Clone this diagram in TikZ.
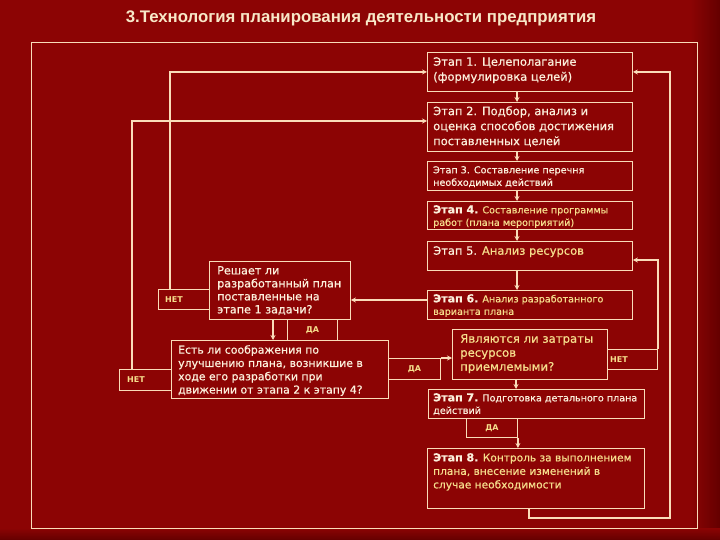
\documentclass[tikz,border=0pt]{standalone}
\usepackage{fontspec}
\setmainfont{DejaVu Sans}
\newfontfamily\semi{DejaVu Sans}[FakeBold=0.6]
\newfontfamily\titlefont{Liberation Sans}
\usetikzlibrary{arrows.meta}
\definecolor{bg}{RGB}{140,4,4}
\definecolor{bgdark}{RGB}{100,0,0}
\definecolor{ln}{RGB}{250,220,185}
\definecolor{tw}{RGB}{252,240,220}
\definecolor{ty}{RGB}{246,222,140}
\definecolor{tt}{RGB}{248,232,200}
\begin{document}
\begin{tikzpicture}[x=1pt,y=-1pt,
  box/.style={draw=ln, line width=0.9pt, rectangle, inner sep=0pt, anchor=north west},
  txt/.style={anchor=north west, inner sep=0pt, align=left, text=tw},
  big/.style={font=\semi\fontsize{11.5}{15}\selectfont},
  sml/.style={font=\semi\fontsize{9.6}{12.5}\selectfont},
  tag/.style={inner sep=0pt, text=ty, font=\bfseries\fontsize{8}{9}\selectfont},
  arr/.style={draw=ln, line width=1.2pt, -{Stealth[length=5pt,width=5pt]}},
  lnk/.style={draw=ln, line width=1.2pt}]
\useasboundingbox (0,0) rectangle (720,540);
\fill[bg] (0,0) rectangle (720,540);
\shade[left color=bg, right color=bgdark] (690,0) rectangle (720,540);
\shade[top color=bg, bottom color=bgdark] (0,528) rectangle (720,540);

\node[inner sep=0pt, text=tt, font=\titlefont\bfseries\fontsize{16.8}{18}\selectfont] (title) at (361,18) {3.Технология планирования деятельности предприятия};

\node[box, minimum width=666pt, minimum height=486pt] (frame) at (31,42) {};

% stage boxes
\node[box, minimum width=205pt, minimum height=39pt] (s1) at (427,52) {};
\node[box, minimum width=205pt, minimum height=49pt] (s2) at (427,102) {};
\node[box, minimum width=205pt, minimum height=29pt] (s3) at (427,161) {};
\node[box, minimum width=205pt, minimum height=28pt] (s4) at (427,201) {};
\node[box, minimum width=205pt, minimum height=29pt] (s5) at (427,241) {};
\node[box, minimum width=205pt, minimum height=29pt] (s6) at (427,290) {};
\node[box, minimum width=155pt, minimum height=50pt] (q3) at (452,329) {};
\node[box, minimum width=50pt, minimum height=20pt] (n3) at (607,349) {};
\node[box, minimum width=216pt, minimum height=29pt] (s7) at (428,389) {};
\node[box, minimum width=51pt, minimum height=19pt] (d3) at (466,418) {};
\node[box, minimum width=217pt, minimum height=60pt] (s8) at (427,448) {};
\node[box, minimum width=141pt, minimum height=58pt] (q1) at (209,261) {};
\node[box, minimum width=51pt, minimum height=20pt] (n1) at (158,289) {};
\node[box, minimum width=50pt, minimum height=21pt] (d1) at (287,319) {};
\node[box, minimum width=217pt, minimum height=58pt] (q2) at (171,340) {};
\node[box, minimum width=52pt, minimum height=21pt] (n2) at (119,369) {};
\node[box, minimum width=52pt, minimum height=21pt] (d2) at (388,358) {};

% texts
\node[txt, big] (t1) at ([shift={(6,5)}]s1.north west) {Этап 1. Целеполагание\\(формулировка целей)};
\node[txt, big] (t2) at ([shift={(6,4)}]s2.north west) {Этап 2. Подбор, анализ и\\оценка способов достижения\\поставленных целей};
\node[txt, sml] (t3) at ([shift={(6,5)}]s3.north west) {Этап 3. Составление перечня\\необходимых действий};
\node[txt, sml] (t4) at ([shift={(6,4)}]s4.north west) {{\bfseries\fontsize{11}{12}\selectfont Этап 4.} {\color{ty}Составление программы}\\{\color{ty}работ (плана мероприятий)}};
\node[txt, big] (t5) at ([shift={(6,5)}]s5.north west) {Этап 5. {\color{ty}Анализ ресурсов}};
\node[txt, sml] (t6) at ([shift={(6,4)}]s6.north west) {{\bfseries\fontsize{11}{12}\selectfont Этап 6.} {\color{ty}Анализ разработанного}\\{\color{ty}варианта плана}};
\node[txt, text=ty, font=\semi\fontsize{11.7}{14}\selectfont] (t7) at ([shift={(8,5)}]q3.north west) {Являются ли затраты\\ресурсов\\приемлемыми?};
\node[txt, sml] (t8) at ([shift={(5,4)}]s7.north west) {{\bfseries\fontsize{11}{12}\selectfont Этап 7.} Подготовка детального плана\\действий};
\node[txt, font=\semi\fontsize{10.6}{13.5}\selectfont] (t9) at ([shift={(6,5)}]s8.north west) {{\bfseries\fontsize{11}{12}\selectfont Этап 8.} {\color{ty}Контроль за выполнением}\\{\color{ty}плана, внесение изменений в}\\{\color{ty}случае необходимости}};
\node[txt, font=\semi\fontsize{11.2}{13}\selectfont] (t10) at ([shift={(8,5)}]q1.north west) {Решает ли\\разработанный план\\поставленные на\\этапе 1 задачи?};
\node[txt, font=\semi\fontsize{10.9}{13.3}\selectfont] (t11) at ([shift={(7,5)}]q2.north west) {Есть ли соображения по\\улучшению плана, возникшие в\\ходе его разработки при\\движении от этапа 2 к этапу 4?};

\node[tag, anchor=west] (l1) at ([xshift=7pt]n1.west) {НЕТ};
\node[tag, anchor=west] (l2) at ([xshift=8pt]n2.west) {НЕТ};
\node[tag, anchor=west] (l3) at ([xshift=3pt]n3.west) {НЕТ};
\node[tag] (l4) at (d1.center) {ДА};
\node[tag] (l5) at (d2.center) {ДА};
\node[tag] (l6) at (d3.center) {ДА};

% helper coordinates
\coordinate (ax) at (517,0);
\coordinate (ay) at (0,300);
\coordinate (bx) at (273,0);
\coordinate (cx) at (516,0);
\coordinate (n1x) at (170,0);
\coordinate (n2x) at (132,0);
\coordinate (s2y) at (0,121);
\coordinate (s5y) at (0,260);
\coordinate (s8x) at (529,0);
\coordinate (loopb) at (670,518);

% connectors
\draw[arr] (s1.south -| ax) -- (s2.north -| ax);
\draw[arr] (s2.south -| ax) -- (s3.north -| ax);
\draw[arr] (s3.south -| ax) -- (s4.north -| ax);
\draw[arr] (s4.south -| ax) -- (s5.north -| ax);
\draw[arr] (s5.south -| ax) -- (s6.north -| ax);
\draw[arr] (s6.west |- ay) -- (q1.east |- ay);
\draw[arr] (q1.south -| bx) -- (q2.north -| bx);
\draw[arr] (n1.north -| n1x) |- (s1.west);
\draw[arr] (n2.north -| n2x) |- (s2.west |- s2y);
\draw[arr] (d2.north east) -- (q3.west |- d2.north east);
\draw[arr] (n3.north east) |- (s5.east |- s5y);
\draw[arr] (q3.south -| cx) -- (s7.north -| cx);
\draw[arr] (d3.south east) -- (s8.north -| d3.south east);
\draw[arr] (s8.south -| s8x) |- (loopb) |- (s1.east);
\end{tikzpicture}
\end{document}
